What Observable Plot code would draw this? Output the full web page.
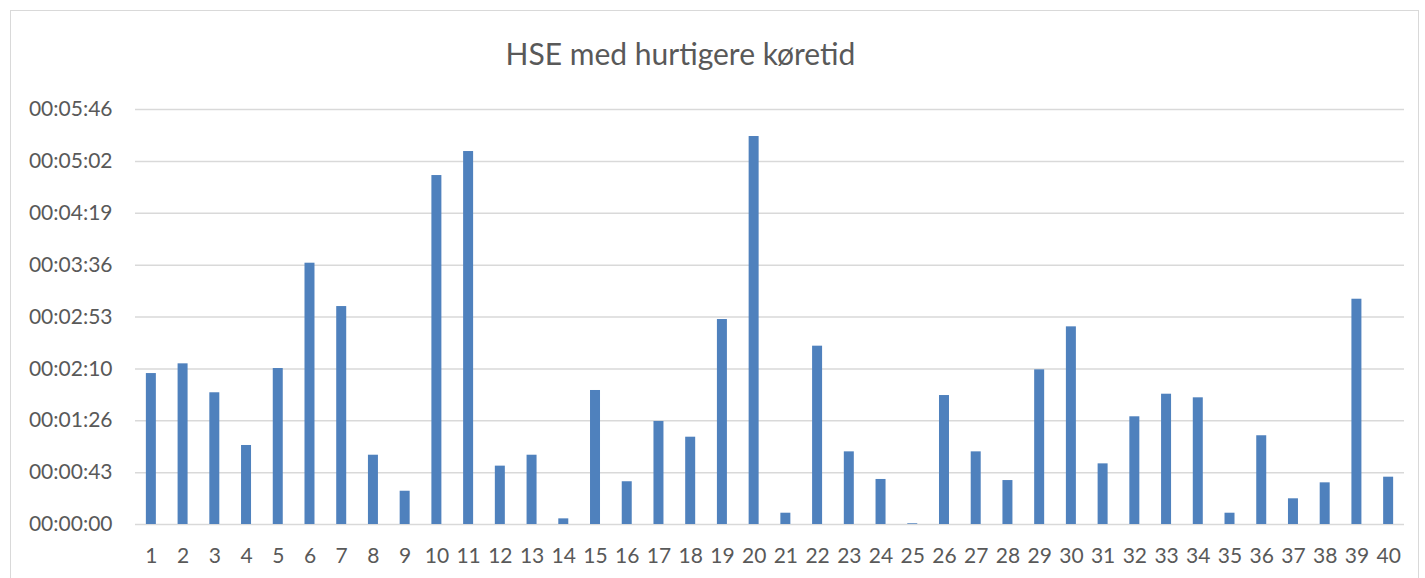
<!DOCTYPE html>
<html>
<head>
<meta charset="utf-8">
<script src="https://cdn.jsdelivr.net/npm/d3@7"></script>
<script src="https://cdn.jsdelivr.net/npm/@observablehq/plot@0.6"></script>
<style>
  html, body { margin: 0; padding: 0; background: #fff; }
  #wrap { position: relative; width: 1425px; height: 578px; overflow: hidden; }
  #frame { position: absolute; left: 10px; top: 10px; width: 1409px; height: 600px; border: 1px solid #d9d9d9; box-sizing: border-box; pointer-events: none; }
  #chart { position: absolute; left: 0; top: 0; }
</style>
</head>
<body>
<div id="wrap"><div id="frame"></div><div id="chart"></div></div>
<script>
const title = "HSE med hurtigere køretid";
const categories = Array.from({length: 40}, (_, i) => String(i + 1));
// durations in seconds
const seconds = [
  125.7, 133.8, 109.7, 65.8, 129.9, 217.6, 181.5, 57.7, 27.7, 290.6,
  310.6, 48.6, 57.7, 4.7, 111.6, 35.6, 85.8, 72.7, 170.7, 323.1,
  9.4, 148.5, 60.5, 37.5, 0.6, 107.4, 60.5, 36.6, 128.8, 164.6,
  50.5, 89.7, 108.5, 105.5, 9.4, 73.9, 21.4, 34.7, 187.6, 39.4
];
// y ticks (seconds) and their labels
const yTicks = [0, 43.2, 86.4, 129.6, 172.8, 216, 259.2, 302.4, 345.6];
const yTickLabels = ["00:00:00", "00:00:43", "00:01:26", "00:02:10", "00:02:53", "00:03:36", "00:04:19", "00:05:02", "00:05:46"];

const data = categories.map((c, i) => ({cat: c, sec: seconds[i]}));
const fmt = v => yTickLabels[yTicks.indexOf(v)] ?? "";

const FONT = "Lato, 'Open Sans', sans-serif";
const TXT = "#595959";

const plot = Plot.plot({
  width: 1425,
  height: 578,
  marginLeft: 135,
  marginRight: 21,
  marginTop: 109,
  marginBottom: 54,
  style: {fontFamily: FONT, fontSize: "21px", color: TXT, background: "transparent", overflow: "visible"},
  x: {type: "band", domain: categories, paddingInner: 0.685, paddingOuter: 0.3425, round: false, label: null},
  y: {domain: [0, 345.6], label: null},
  marks: [
    Plot.ruleY(yTicks, {stroke: "#d9d9d9", strokeWidth: 1.5}),
    Plot.barY(data, {x: "cat", y: "sec", fill: "#4f81bd"}),
    Plot.axisY({ticks: yTicks, tickFormat: fmt, tickSize: 0, tickPadding: 23, fill: TXT, fontSize: 21, label: null}),
    Plot.axisX({tickSize: 0, tickPadding: 24, fill: TXT, fontSize: 21, label: null}),
    Plot.text([title], {frameAnchor: "top", lineAnchor: "middle", dy: -54, dx: -89.5, fontSize: 30, fontWeight: 400, fill: TXT, fontFamily: FONT})
  ]
});
document.getElementById("chart").appendChild(plot);
</script>
</body>
</html>
